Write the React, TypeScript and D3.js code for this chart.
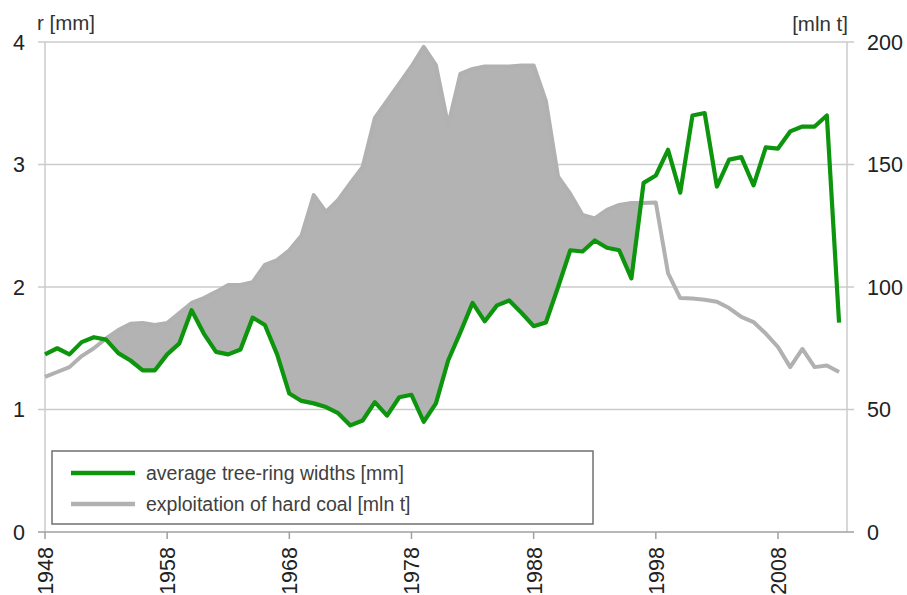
import React from "react"
import * as d3 from "d3"

// years 1948..2013
const years = d3.range(1948, 2014)

// average tree-ring widths [mm]
const ringWidth = [
  1.45, 1.5, 1.45, 1.55, 1.59, 1.57, 1.46, 1.4, 1.32, 1.32,
  1.45, 1.54, 1.81, 1.62, 1.47, 1.45, 1.49, 1.75, 1.69, 1.45,
  1.13, 1.07, 1.05, 1.02, 0.97, 0.87, 0.91, 1.06, 0.95, 1.1,
  1.12, 0.9, 1.05, 1.4, 1.63, 1.87, 1.72, 1.85, 1.89, 1.79,
  1.68, 1.71, 2.0, 2.3, 2.29, 2.38, 2.32, 2.3, 2.07, 2.85,
  2.91, 3.12, 2.77, 3.4, 3.42, 2.82, 3.04, 3.06, 2.83, 3.14,
  3.13, 3.27, 3.31, 3.31, 3.4, 1.71,
]

// exploitation of hard coal [mln t]
const coal = [
  63.3, 65.3, 67.3, 71.8, 75, 79, 82.4, 85, 85.3, 84.5,
  85.3, 89.4, 93.5, 95.5, 98, 100.8, 100.8, 102, 109, 111,
  115, 121, 137.5, 130.6, 135.5, 142.4, 149, 169, 176, 183,
  190, 198, 190.6, 166, 187, 189, 190, 190, 190, 190.4,
  190.4, 176, 145, 138, 129.4, 128, 131.5, 133.5, 134.3, 134.3,
  134.5, 105.7, 95.5, 95.3, 94.8, 94, 91.4, 87.8, 85.7, 81,
  75.5, 67.3, 74.7, 67.3, 68, 65.3,
]

const leftTicks = [0, 1, 2, 3, 4]
const rightTicks = [0, 50, 100, 150, 200]
const yearTicks = [1948, 1958, 1968, 1978, 1988, 1998, 2008]

const legendItems = [
  { label: "average tree-ring widths [mm]", color: "#0e950e" },
  { label: "exploitation of hard coal [mln t]", color: "#b1b1b1" },
]

const W = 907
const H = 595
const left = 45
const right = 847
const top = 42
const bottom = 532
const font = "'Liberation Sans', Arial, sans-serif"

export default function App() {
  const x = d3.scaleLinear().domain([1948, 2013.65]).range([left, right])
  const yL = d3.scaleLinear().domain([0, 4]).range([bottom, top])
  const yR = d3.scaleLinear().domain([0, 200]).range([bottom, top])

  const data = years.map((yr, i) => ({ yr, r: ringWidth[i], c: coal[i] }))

  const greenLine = d3.line<any>().x(d => x(d.yr)).y(d => yL(d.r))
  const coalLine = d3.line<any>().x(d => x(d.yr)).y(d => yR(d.c))
  // region above the green line
  const aboveGreen = d3.area<any>().x(d => x(d.yr)).y0(d => yL(d.r)).y1(top - 5)
  // region below the coal line (used as clip)
  const belowCoal = d3.area<any>().x(d => x(d.yr)).y0(bottom).y1(d => yR(d.c))

  return (
    <svg width={W} height={H} style={{ position: "absolute", left: 0, top: 0, background: "#fff" }}
      fontFamily={font}>
      <defs>
        <clipPath id="coalClip">
          <path d={belowCoal(data) || ""} />
        </clipPath>
      </defs>

      {/* gridlines */}
      {leftTicks.slice(1).map(t => (
        <line key={t} x1={left - 7} x2={right + 7} y1={yL(t)} y2={yL(t)} stroke="#cbcbcb" strokeWidth={1.5} />
      ))}
      <line x1={left} x2={left} y1={top} y2={bottom} stroke="#cbcbcb" strokeWidth={1.5} />
      <line x1={right} x2={right} y1={top} y2={bottom} stroke="#cbcbcb" strokeWidth={1.5} />

      {/* filled gap */}
      <path d={aboveGreen(data) || ""} fill="#b3b3b3" clipPath="url(#coalClip)" />
      <path d={coalLine(data) || ""} fill="none" stroke="#b1b1b1" strokeWidth={4} strokeLinejoin="round" />
      <path d={greenLine(data) || ""} fill="none" stroke="#0e950e" strokeWidth={4.2} strokeLinejoin="round" />

      {/* x axis */}
      <line x1={left - 7} x2={right + 7} y1={bottom} y2={bottom} stroke="#a0a0a0" strokeWidth={1.5} />
      {yearTicks.map(t => (
        <g key={t}>
          <line x1={x(t)} x2={x(t)} y1={bottom} y2={bottom + 7} stroke="#a0a0a0" strokeWidth={1.5} />
          <text transform={`translate(${x(t) + 8},${bottom + 15}) rotate(-90)`} textAnchor="end"
            fontSize={21.5} fill="#222">{t}</text>
        </g>
      ))}

      {/* axis labels */}
      {leftTicks.map(t => (
        <text key={t} x={25} y={yL(t) + 7.5} textAnchor="end" fontSize={21.5} fill="#222">{t}</text>
      ))}
      {rightTicks.map(t => (
        <text key={t} x={867} y={yR(t) + 7.5} textAnchor="start" fontSize={21.5} fill="#222">{t}</text>
      ))}
      <text x={37} y={30} fontSize={20.5} fill="#333">r [mm]</text>
      <text x={848} y={31} fontSize={20.5} fill="#333" textAnchor="end">[mln t]</text>

      {/* legend */}
      <rect x={52} y={451} width={541} height={73} fill="#fff" stroke="#707070" strokeWidth={1.5} />
      {legendItems.map((d, i) => (
        <g key={d.label}>
          <line x1={71} x2={135} y1={473 + i * 31} y2={473 + i * 31} stroke={d.color} strokeWidth={4.5} />
          <text x={146} y={479.5 + i * 31} fontSize={19.5} fill="#404040">{d.label}</text>
        </g>
      ))}
    </svg>
  )
}
